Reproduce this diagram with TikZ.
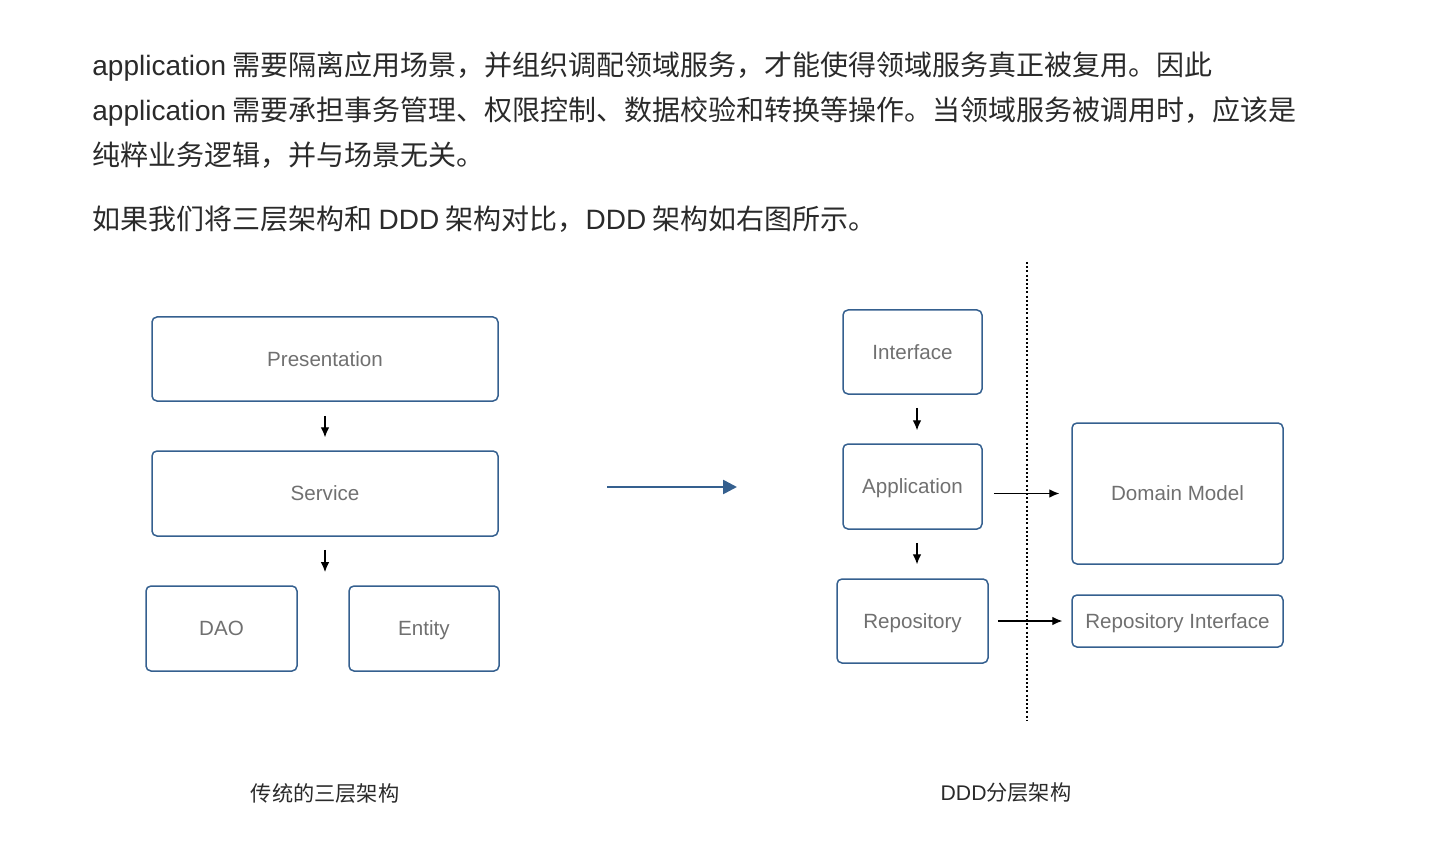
\documentclass[tikz,border=0pt]{standalone}
\usepackage{fontspec}
\setmainfont{Noto Sans CJK SC}
\newfontfamily\lat{Liberation Sans}
\usetikzlibrary{arrows.meta}
\definecolor{bordc}{HTML}{35608F}
\definecolor{labc}{HTML}{707070}
\definecolor{txtc}{HTML}{2A2A2A}
\begin{document}
\begin{tikzpicture}[x=0.5pt,y=-0.5pt,
  box/.style={draw=bordc, line width=0.75pt, rounded corners=2.5pt, inner sep=0pt,
    text height=7.4pt, text depth=0pt,
    font=\lat\fontsize{10.3pt}{12pt}\selectfont, text=labc},
  arr/.style={-{Latex[length=5pt,width=4.4pt]}, line width=0.6pt, black},
  para/.style={anchor=base west, inner sep=0pt, text=txtc, font=\fontsize{14pt}{16pt}\selectfont},
  captext/.style={inner sep=0pt, text=txtc, font=\fontsize{10.6pt}{12pt}\selectfont}]
\useasboundingbox (0,0) rectangle (1448,856);
% paragraph text
\node[para] (l1) at (92,76) {{\lat application} 需要隔离应用场景，并组织调配领域服务，才能使得领域服务真正被复用。因此};
\node[para] (l2) at (92,121) {{\lat application} 需要承担事务管理、权限控制、数据校验和转换等操作。当领域服务被调用时，应该是};
\node[para] (l3) at (92,166) {纯粹业务逻辑，并与场景无关。};
\node[para] (l4) at (92,230) {如果我们将三层架构和 {\lat DDD} 架构对比，{\lat DDD} 架构如右图所示。};
% left: three layer
\node[box, minimum width=173pt, minimum height=42pt] (pres) at (325,359) {Presentation};
\node[box, minimum width=173pt, minimum height=42.5pt] (serv) at (325,493.5) {Service};
\node[box, minimum width=75.5pt, minimum height=42.5pt] (dao) at (221.5,628.5) {DAO};
\node[box, minimum width=75pt, minimum height=42.5pt] (ent) at (424,628.5) {Entity};
\coordinate (gap) at (325,586);
\draw[arr, shorten <=7pt, shorten >=6.5pt] (pres.south) -- (serv.north);
\draw[arr, shorten <=6.5pt, shorten >=7pt] (serv.south) -- (gap);
% middle arrow
\coordinate (ma) at (607,487);
\coordinate (mb) at (737,487);
\draw[-{Triangle[length=7pt,width=7pt]}, line width=1.3pt, bordc] (ma) -- (mb);
% right: DDD
\node[box, minimum width=69.5pt, minimum height=42pt] (intf) at (912.5,352) {Interface};
\node[box, minimum width=69.5pt, minimum height=42.5pt] (app) at (912.5,486.5) {Application};
\node[box, minimum width=75.5pt, minimum height=42pt] (repo) at (912.5,621) {Repository};
\node[box, minimum width=105.5pt, minimum height=70.5pt] (dom) at (1177.5,493.5) {Domain Model};
\node[box, minimum width=105.5pt, minimum height=26pt] (ri) at (1177.5,621) {Repository Interface};
\draw[arr, shorten <=6.5pt, shorten >=6.5pt] ([xshift=2.25pt]intf.south) -- ([xshift=2.25pt]app.north);
\draw[arr, shorten <=6.5pt, shorten >=7pt] ([xshift=2.25pt]app.south) -- ([xshift=2.25pt]repo.north);
\draw[arr, shorten <=5.5pt, shorten >=6pt] (app.east |- dom.west) -- (dom.west);
\draw[arr, shorten <=4.5pt, shorten >=4.5pt] (repo.east) -- (ri.west);
\coordinate (dt) at (1027,262);
\coordinate (db) at (1027,720);
\draw[line width=0.65pt, dash pattern=on 1pt off 1.1pt] (dt) -- (db);
% captions
\node[captext] (c1) at (325,793) {传统的三层架构};
\node[captext] (c2) at (1006,793) {{\lat DDD}分层架构};
\end{tikzpicture}
\end{document}
